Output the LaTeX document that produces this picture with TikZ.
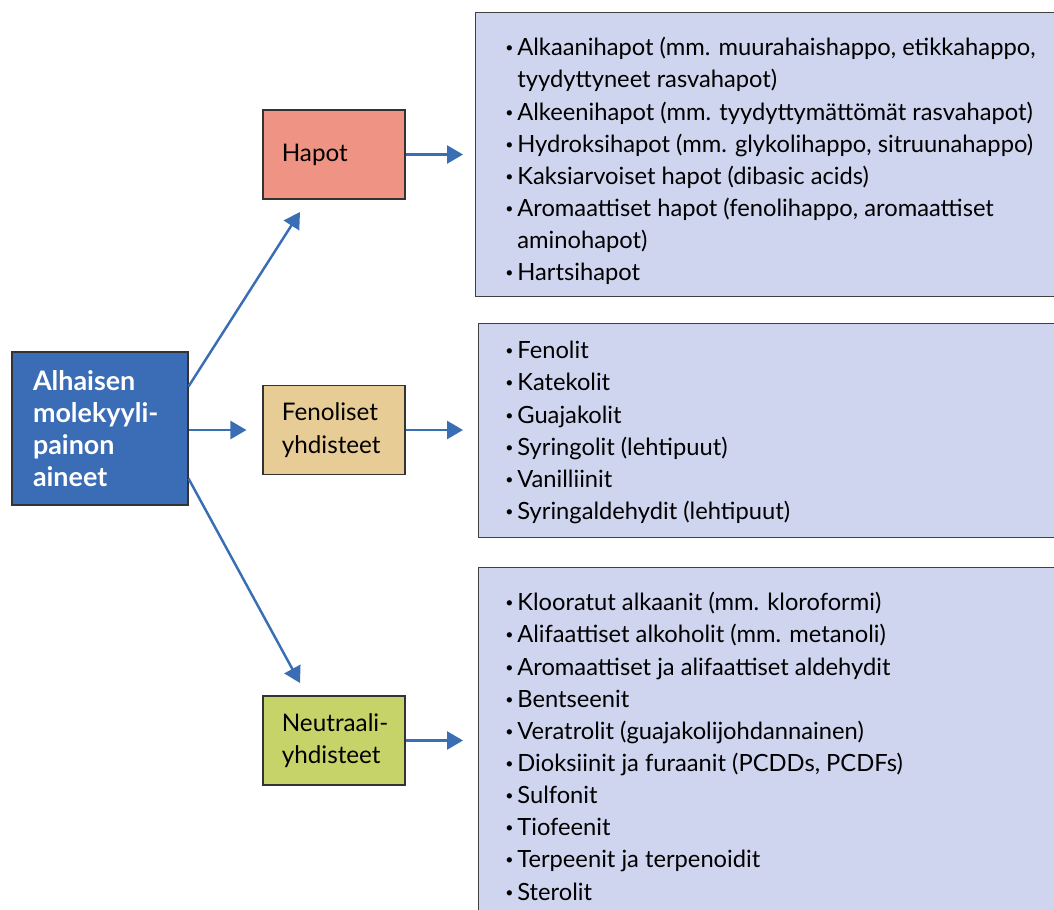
\documentclass[tikz,border=0pt]{standalone}
\usepackage{fontspec}
\setmainfont{Lato}
\usepackage{xcolor}
\usetikzlibrary{arrows.meta}

\definecolor{mainblue}{HTML}{3A6DB5}
\definecolor{arrowblue}{HTML}{3A6EB4}
\definecolor{acidfill}{HTML}{EF9385}
\definecolor{phenfill}{HTML}{E8CC96}
\definecolor{neutfill}{HTML}{C6D368}
\definecolor{listbg}{HTML}{CFD5EE}

\newcommand\itm{\makebox[0.24cm][l]{\raisebox{0.25ex}{\fontsize{8}{8}\selectfont\textbullet}}}
\newcommand\cont{\hspace*{0.24cm}}

\begin{document}
\begin{tikzpicture}[x=0.02cm, y=-0.02cm,
    font=\fontsize{13.5}{18.3}\selectfont,
    catbox/.style={draw=black!80, line width=0.6pt, minimum width=2.84cm, minimum height=1.78cm},
    cattext/.style={anchor=west, xshift=0.38cm, inner sep=0, align=left, font=\fontsize{13.8}{18.6}\selectfont},
    listbox/.style={draw=black!75, line width=0.6pt, fill=listbg, anchor=north west, inner sep=0,
      minimum width=12cm},
    listtext/.style={anchor=north west, inner sep=0, align=left},
    arr/.style={draw=arrowblue, line width=1.4pt, -{Triangle[length=0.32cm, width=0.36cm]}}]
  \useasboundingbox (0,0) rectangle (1054,909);
  \clip (0,0) rectangle (1054,909);

  % main box
  \node[draw=black!80, line width=0.6pt, fill=mainblue, text=white, font=\fontsize{15.3}{18.3}\selectfont\bfseries,
    minimum width=3.52cm, minimum height=3.06cm, text width=2.68cm, inner xsep=0.42cm, align=left]
    (main) at (100,428.5) {Alhaisen\\ molekyyli-\\ painon\\ aineet};

  % categories
  \node[catbox, fill=acidfill] (hapot) at (334,154.5) {};
  \node[catbox, fill=phenfill] (fenol) at (334,430) {};
  \node[catbox, fill=neutfill] (neutr) at (334,740.5) {};
  \node[cattext] (hapotlbl) at (hapot.west) {Hapot};
  \node[cattext] (fenollbl) at (fenol.west) {Fenoliset\\ yhdisteet};
  \node[cattext] (neutrlbl) at (neutr.west) {Neutraali-\\ yhdisteet};

  % lists
  \node[listbox, minimum height=5.68cm] (acidlist) at (475,12) {};
  \node[listbox, minimum height=4.28cm] (phenlist) at (478,323) {};
  \node[listbox, minimum height=8cm] (neutlist) at (478,567) {};

  \node[listtext] (acidtext) at (505,37) {%
    \itm Alkaanihapot (mm. muurahaishappo, etikkahappo,\\
    \cont tyydyttyneet rasvahapot)\\
    \itm Alkeenihapot (mm. tyydyttymättömät rasvahapot)\\
    \itm Hydroksihapot (mm. glykolihappo, sitruunahappo)\\
    \itm Kaksiarvoiset hapot (dibasic acids)\\
    \itm Aromaattiset hapot (fenolihappo, aromaattiset\\
    \cont aminohapot)\\
    \itm Hartsihapot};
  \node[listtext] (phentext) at (505,341) {%
    \itm Fenolit\\
    \itm Katekolit\\
    \itm Guajakolit\\
    \itm Syringolit (lehtipuut)\\
    \itm Vanilliinit\\
    \itm Syringaldehydit (lehtipuut)};
  \node[listtext] (neuttext) at (505,592) {%
    \itm Klooratut alkaanit (mm. kloroformi)\\
    \itm Alifaattiset alkoholit (mm. metanoli)\\
    \itm Aromaattiset ja alifaattiset aldehydit\\
    \itm Bentseenit\\
    \itm Veratrolit (guajakolijohdannainen)\\
    \itm Dioksiinit ja furaanit (PCDDs, PCDFs)\\
    \itm Sulfonit\\
    \itm Tiofeenit\\
    \itm Terpeenit ja terpenoidit\\
    \itm Sterolit};

  % connectors
  \coordinate (hapottip) at (300,212);
  \coordinate (neutrtip) at (300,683);
  \draw[arr] ([yshift=-0.7cm]main.north east) -- (hapottip);
  \draw[arr, shorten >=0.32cm] (main.east |- fenol.west) -- (fenol.west);
  \draw[arr] ([yshift=0.54cm]main.south east) -- (neutrtip);
  \draw[arr, shorten >=0.24cm] (hapot.east) -- (hapot.east -| acidlist.west);
  \draw[arr, shorten >=0.3cm] (fenol.east) -- (fenol.east -| phenlist.west);
  \draw[arr, shorten >=0.3cm] (neutr.east) -- (neutr.east -| neutlist.west);
\end{tikzpicture}
\end{document}
